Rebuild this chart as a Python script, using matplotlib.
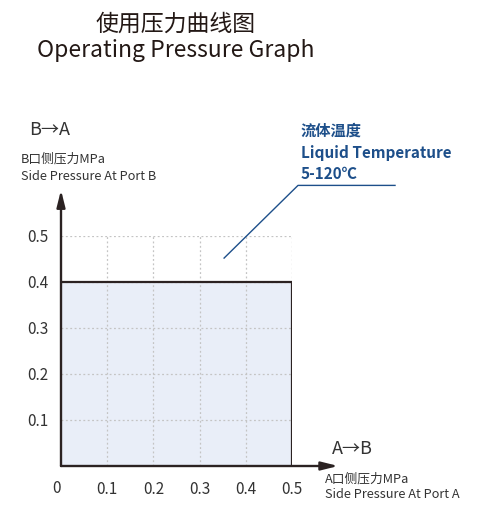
import matplotlib
matplotlib.use("Agg")
import matplotlib.pyplot as plt
from matplotlib.patches import Rectangle

plt.rcParams['font.family'] = ['Noto Sans CJK SC', 'DejaVu Sans']

# data
x_ticks = [0.1, 0.2, 0.3, 0.4, 0.5]
y_ticks = [0.1, 0.2, 0.3, 0.4, 0.5]
max_a = 0.5   # A口侧最大压力
max_b = 0.4   # B口侧最大压力
title_cn = "使用压力曲线图"
title_en = "Operating Pressure Graph"
note_lines = ["流体温度", "Liquid Temperature", "5-120℃"]

W, H = 480, 521
dark = "#2b2222"
blue = "#1d4f8a"
txt = "#333333"

fig = plt.figure(figsize=(W / 100, H / 100), dpi=100)
ax = fig.add_axes([61 / W, 55 / H, 231 / W, 230 / H])
ax.set_xlim(0, 0.5)
ax.set_ylim(0, 0.5)
for s in ax.spines.values():
    s.set_visible(False)

# grid (dotted)
for v in x_ticks:
    ax.plot([v, v], [0, 0.5], ls=(0, (1.5, 2)), color="#c4c4c4", lw=0.9, zorder=1)
for v in y_ticks:
    ax.plot([0, 0.5], [v, v], ls=(0, (1.5, 2)), color="#c4c4c4", lw=0.9, zorder=1)

# operating area
ax.add_patch(Rectangle((0, 0), max_a, max_b, facecolor="#e9eef8",
                       edgecolor="none", zorder=0))
ax.plot([0, max_a, max_a], [max_b, max_b, 0], color=dark, lw=1.6, zorder=3)

# axes with arrows
ax.annotate("", xy=(0.6, 0), xytext=(0, 0), annotation_clip=False,
            arrowprops=dict(arrowstyle="-|>,head_length=1.0,head_width=0.25",
                            color=dark, lw=1.7, shrinkA=0, shrinkB=0), zorder=4)
ax.annotate("", xy=(0, 0.6), xytext=(0, 0), annotation_clip=False,
            arrowprops=dict(arrowstyle="-|>,head_length=1.0,head_width=0.25",
                            color=dark, lw=1.7, shrinkA=0, shrinkB=0), zorder=4)

# ticks
ax.set_xticks(x_ticks)
ax.set_xticklabels([f"{v:.1f}" for v in x_ticks])
ax.set_yticks(y_ticks)
ax.set_yticklabels([f"{v:.1f}" for v in y_ticks])
ax.tick_params(length=0, labelsize=11, labelcolor=txt)
ax.tick_params(axis="x", pad=11)
ax.tick_params(axis="y", pad=9)
ax.text(-0.01, -0.031, "0", fontsize=11, color=txt, ha="center", va="top")

# leader for temperature note
ax.plot([0.353, 0.513, 0.723], [0.452, 0.61, 0.61], color=blue, lw=1.0,
        clip_on=False, zorder=2)

# titles
fig.text(176 / W, 1 - 24 / H, title_cn, ha="center", va="center",
         fontsize=16.5, color="#231815", fontweight="medium")
fig.text(176 / W, 1 - 51 / H, title_en, ha="center", va="center",
         fontsize=16.5, color="#231815", fontweight="medium")

# note
fig.text(301 / W, 1 - 131 / H, note_lines[0], ha="left", va="center",
         fontsize=11, color=blue, fontweight="bold")
fig.text(301 / W, 1 - 153 / H, note_lines[1], ha="left", va="center",
         fontsize=11, color=blue, fontweight="bold")
fig.text(301 / W, 1 - 174 / H, note_lines[2], ha="left", va="center",
         fontsize=11, color=blue, fontweight="bold")

# axis titles
fig.text(29 / W, 1 - 130 / H, "B→A", ha="left", va="center",
         fontsize=13, color=txt)
fig.text(21 / W, 1 - 159 / H, "B口侧压力MPa", ha="left", va="center",
         fontsize=9.2, color=txt)
fig.text(21 / W, 1 - 176 / H, "Side Pressure At Port B", ha="left", va="center",
         fontsize=9.2, color=txt)
fig.text(332 / W, 1 - 449 / H, "A→B", ha="left", va="center",
         fontsize=13, color=txt)
fig.text(325 / W, 1 - 479 / H, "A口侧压力MPa", ha="left", va="center",
         fontsize=9.2, color=txt)
fig.text(325 / W, 1 - 495 / H, "Side Pressure At Port A", ha="left", va="center",
         fontsize=9.2, color=txt)

fig.savefig("out.png", dpi=100, facecolor="white")
